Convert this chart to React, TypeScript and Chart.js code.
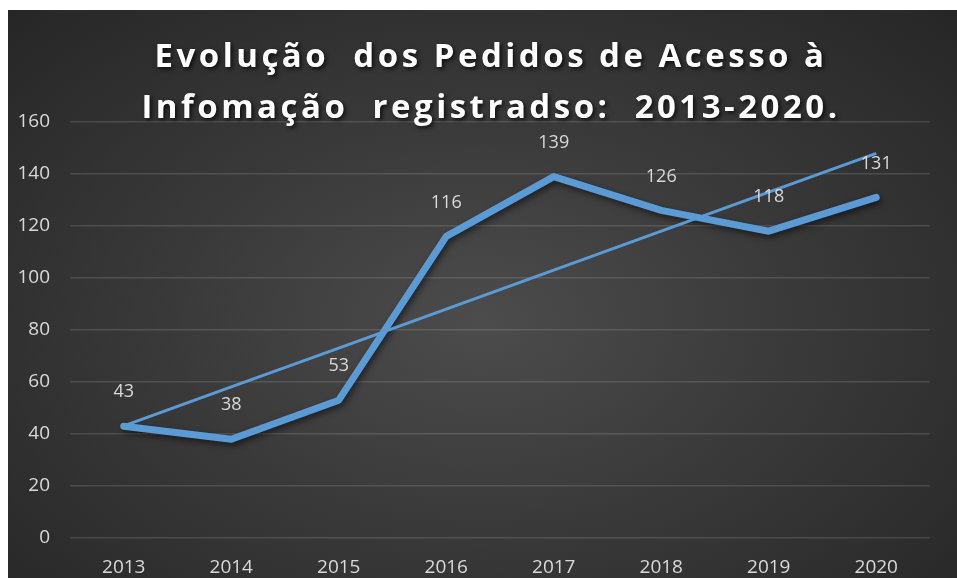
import React, { useEffect, useRef } from "react";
import { Chart, registerables } from "chart.js";

Chart.register(...registerables);

const years: string[] = ["2013", "2014", "2015", "2016", "2017", "2018", "2019", "2020"];
const pedidos: number[] = [43, 38, 53, 116, 139, 126, 118, 131];
const tendencia: number[] = [43.1, 58.1, 73.0, 88.0, 103.0, 118.0, 133.0, 147.9];
const titleLines: string[] = ["Evolução  dos Pedidos de Acesso à", "Infomação  registradso:  2013-2020."];
const yMin = 0;
const yMax = 160;
const yStep = 20;

const LINE_COLOR = "#5B9BD5";
const TEXT_COLOR = "#d9d9d9";

const shadowPlugin = {
  id: "lineShadow",
  beforeDatasetDraw(chart: any, args: any) {
    const ctx = chart.ctx;
    ctx.save();
    if (args.index === 0) {
      ctx.shadowColor = "rgba(0,0,0,0.55)";
      ctx.shadowBlur = 6;
      ctx.shadowOffsetX = 2;
      ctx.shadowOffsetY = 3;
    }
  },
  afterDatasetDraw(chart: any) {
    chart.ctx.restore();
  },
};

const labelsPlugin = {
  id: "valueLabels",
  afterDatasetsDraw(chart: any) {
    const ctx = chart.ctx;
    const meta = chart.getDatasetMeta(0);
    const data = chart.data.datasets[0].data as number[];
    ctx.save();
    ctx.font = "18px 'Open Sans', sans-serif";
    ctx.fillStyle = TEXT_COLOR;
    ctx.textAlign = "center";
    ctx.textBaseline = "middle";
    meta.data.forEach((pt: any, i: number) => {
      ctx.fillText(String(data[i]), pt.x, pt.y - 34);
    });
    ctx.restore();
  },
};

const titlePlugin = {
  id: "overlayTitle",
  afterDraw(chart: any) {
    const ctx = chart.ctx;
    ctx.save();
    ctx.font = "bold 33px 'Open Sans', sans-serif";
    try {
      (ctx as any).letterSpacing = "3.5px";
    } catch (e) {}
    ctx.fillStyle = "#ffffff";
    ctx.textAlign = "center";
    ctx.textBaseline = "alphabetic";
    ctx.shadowColor = "rgba(0,0,0,0.75)";
    ctx.shadowBlur = 4;
    ctx.shadowOffsetX = 2;
    ctx.shadowOffsetY = 2;
    const cx = 483;
    const baselines = [57, 108];
    titleLines.forEach((line, i) => {
      ctx.fillText(line, cx, baselines[i]);
    });
    ctx.restore();
  },
};

export default function App() {
  const canvasRef = useRef<HTMLCanvasElement | null>(null);

  useEffect(() => {
    if (!canvasRef.current) return;
    const chart = new Chart(canvasRef.current, {
      type: "line",
      data: {
        labels: years,
        datasets: [
          {
            label: "Pedidos",
            data: pedidos,
            borderColor: LINE_COLOR,
            backgroundColor: LINE_COLOR,
            borderWidth: 7,
            pointRadius: 0,
            borderJoinStyle: "round",
            borderCapStyle: "round",
            tension: 0,
            order: 1,
          },
          {
            label: "Linear (Pedidos)",
            data: tendencia,
            borderColor: LINE_COLOR,
            backgroundColor: LINE_COLOR,
            borderWidth: 3,
            pointRadius: 0,
            tension: 0,
            order: 0,
          },
        ],
      },
      options: {
        responsive: false,
        animation: false,
        layout: { padding: { left: 0, right: 27, top: 112, bottom: 0 } },
        plugins: {
          legend: { display: false },
          title: { display: false },
          tooltip: { enabled: false },
        },
        scales: {
          x: {
            offset: true,
            grid: { display: false, drawTicks: false },
            border: { display: false },
            ticks: {
              color: TEXT_COLOR,
              font: { family: "'Open Sans', sans-serif", size: 19 },
              padding: 18,
              maxRotation: 0,
            },
            afterFit: (scale: any) => {
              scale.height = 40;
            },
          },
          y: {
            min: yMin,
            max: yMax,
            grid: { color: "rgba(255,255,255,0.13)", lineWidth: 1.5, drawTicks: false },
            border: { display: false },
            ticks: {
              stepSize: yStep,
              color: TEXT_COLOR,
              font: { family: "'Open Sans', sans-serif", size: 19 },
              padding: 20,
            },
            afterFit: (scale: any) => {
              scale.width = 62;
            },
          },
        },
      },
      plugins: [shadowPlugin, labelsPlugin, titlePlugin],
    });
    return () => chart.destroy();
  }, []);

  return (
    <div
      style={{
        position: "absolute",
        left: 8,
        top: 10,
        width: 949,
        height: 568,
        background: "radial-gradient(ellipse at 50% 55%, #4c4c4c 0%, #3a3a3a 45%, #262626 100%)",
        overflow: "hidden",
      }}
    >
      <canvas ref={canvasRef} width={949} height={568} style={{ display: "block" }} />
    </div>
  );
}
